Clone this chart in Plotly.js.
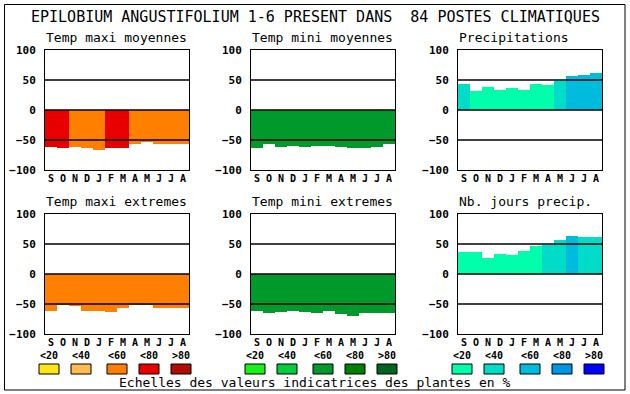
<!DOCTYPE html>
<html>
<head>
<meta charset="utf-8">
<script src="https://cdn.plot.ly/plotly-3.0.1.min.js"></script>
<style>html,body{margin:0;padding:0;background:#fff;}#chart{width:630px;height:394px;}</style>
</head>
<body>
<div id="chart"></div>
<script>
// ---- data ----
const months = ["S","O","N","D","J","F","M","A","M","J","J","A"];
const yTicks = [-100, -50, 0, 50, 100];
const mainTitle = "EPILOBIUM ANGUSTIFOLIUM 1-6 PRESENT DANS  84 POSTES CLIMATIQUES";
const panelTitles = ["Temp maxi moyennes","Temp mini moyennes","Precipitations",
                     "Temp maxi extremes","Temp mini extremes","Nb. jours precip."];
const scaleLabels = ["<20","<40","<60","<80",">80"];
const footer = "Echelles des valeurs indicatrices des plantes en %";

const tmaxMoy      = [-62,-64,-62,-64,-67,-64,-64,-57,-54,-56,-57,-57];
const tmaxMoyClass = [4,4,3,3,3,4,4,3,3,3,3,3];
const tminMoy      = [-63,-57,-62,-60.5,-62,-60.5,-60.5,-62,-64,-64,-62,-57];
const tminMoyClass = [3,3,3,3,3,3,3,3,3,3,3,3];
const precip       = [44,31,38,34,36,34,44,41,49,56,58,61];
const precipClass  = [2,1,1,1,1,1,1,1,2,3,3,3];
const tmaxExt      = [-61,-52,-54,-61,-61,-64,-56,-51,-51,-57,-56,-56];
const tmaxExtClass = [3,3,3,3,3,3,3,3,3,3,3,3];
const tminExt      = [-62,-65.5,-64,-62,-64,-65.5,-62,-67,-70.5,-65.5,-65.5,-65.5];
const tminExtClass = [3,3,3,3,3,3,3,3,3,3,3,3];
const jours        = [36,36,26,33,31,38,46,49,56,63,61,61];
const joursClass   = [1,1,1,1,1,1,1,2,2,3,2,2];

// ---- palettes ----
const warm  = ["#ffe619","#ffbb4d","#ff8000","#e80000","#b00d00"];
const green = ["#18f018","#00cc3c","#009a2c","#008000","#00641e"];
const blue  = ["#00ffaa","#00dcc8","#00bcdc","#0096e6","#0000ff"];

const panels = [
  {v: tmaxMoy, c: tmaxMoyClass, pal: warm},
  {v: tminMoy, c: tminMoyClass, pal: green},
  {v: precip,  c: precipClass,  pal: blue},
  {v: tmaxExt, c: tmaxExtClass, pal: warm},
  {v: tminExt, c: tminExtClass, pal: green},
  {v: jours,   c: joursClass,   pal: blue}
];

const W = 630, H = 394;
const colsPx = [[45,189],[251,395],[458,602]];
const rowsPx = [[50,170],[214,334]];
const mono = "DejaVu Sans Mono, Liberation Mono, monospace";

const data = [];
const layout = {
  width: W, height: H,
  margin: {l:0, r:0, t:0, b:0},
  paper_bgcolor: "#ffffff", plot_bgcolor: "#ffffff",
  showlegend: false, bargap: 0,
  font: {family: mono, color: "#000"},
  shapes: [], annotations: []
};

panels.forEach((p, i) => {
  const col = i % 3, row = Math.floor(i / 3);
  const n = i + 1;
  const xa = "x" + (n === 1 ? "" : n), ya = "y" + (n === 1 ? "" : n);
  const xk = "xaxis" + (n === 1 ? "" : n), yk = "yaxis" + (n === 1 ? "" : n);
  data.push({
    type: "bar",
    x: months.map((m, k) => k),
    y: p.v,
    marker: {color: p.c.map(c => p.pal[c - 1]), line: {width: 0}},
    xaxis: xa, yaxis: ya,
    hoverinfo: "skip"
  });
  const [x0, x1] = colsPx[col], [y0, y1] = rowsPx[row];
  layout[xk] = {
    domain: [x0 / W, x1 / W], anchor: ya,
    range: [-0.5, 11.5], tickvals: months.map((m, k) => k), ticktext: months,
    tickfont: {family: mono, size: 10, weight: "bold", color: "#000"},
    showgrid: false, zeroline: false, ticks: "", ticklabelstandoff: -1,
    showline: true, mirror: true, linecolor: "#000", linewidth: 1, fixedrange: true
  };
  layout[yk] = {
    domain: [1 - y1 / H, 1 - y0 / H], anchor: xa,
    range: [-100, 100], tickvals: yTicks,
    tickfont: {family: mono, size: 11, weight: "bold", color: "#000"},
    showgrid: false, zeroline: false, ticks: "", ticklabelstandoff: 6,
    showline: true, mirror: true, linecolor: "#000", linewidth: 1, fixedrange: true
  };
  [-50, 0, 50].forEach(g => {
    layout.shapes.push({type: "line", xref: xa + " domain", yref: ya,
      x0: 0, x1: 1, y0: g, y1: g, layer: "above", line: {color: "#000", width: 1.3}});
  });
  layout.annotations.push({
    text: panelTitles[i], xref: "paper", yref: "paper",
    x: (x0 - 1) / W, y: 1 - (y0 - 13) / H, xanchor: "left", yanchor: "middle",
    showarrow: false, font: {family: mono, size: 13, color: "#000"}
  });
  if (row === 0) {
    // legend swatches under each column
    const offs = [-6, 26, 62, 94, 126];
    offs.forEach((o, k) => {
      const sx = x0 + o;
      layout.shapes.push({type: "rect", xref: "paper", yref: "paper",
        x0: sx / W, x1: (sx + 20) / W, y0: 1 - 374 / H, y1: 1 - 364 / H,
        fillcolor: p.pal[k], line: {color: "#000", width: 1}});
      layout.annotations.push({text: scaleLabels[k], xref: "paper", yref: "paper",
        x: (sx + 10) / W, y: 1 - 355.5 / H, xanchor: "center", yanchor: "middle",
        showarrow: false, font: {family: mono, size: 10, weight: "bold", color: "#000"}});
    });
  }
});

layout.annotations.push({
  text: mainTitle, xref: "paper", yref: "paper", x: 0.5, y: 1 - 17 / H,
  xanchor: "center", yanchor: "middle", showarrow: false,
  font: {family: mono, size: 15, color: "#000"}
});
layout.annotations.push({
  text: footer, xref: "paper", yref: "paper", x: 315 / W, y: 1 - 382.5 / H,
  xanchor: "center", yanchor: "middle", showarrow: false,
  font: {family: mono, size: 13, color: "#000"}
});
layout.shapes.push({type: "rect", xref: "paper", yref: "paper",
  x0: 4.5 / W, x1: 625 / W, y0: 1 - 390 / H, y1: 1 - 4.5 / H,
  line: {color: "#000", width: 1}, layer: "below"});

Plotly.newPlot("chart", data, layout, {staticPlot: true, displayModeBar: false});
</script>
</body>
</html>
